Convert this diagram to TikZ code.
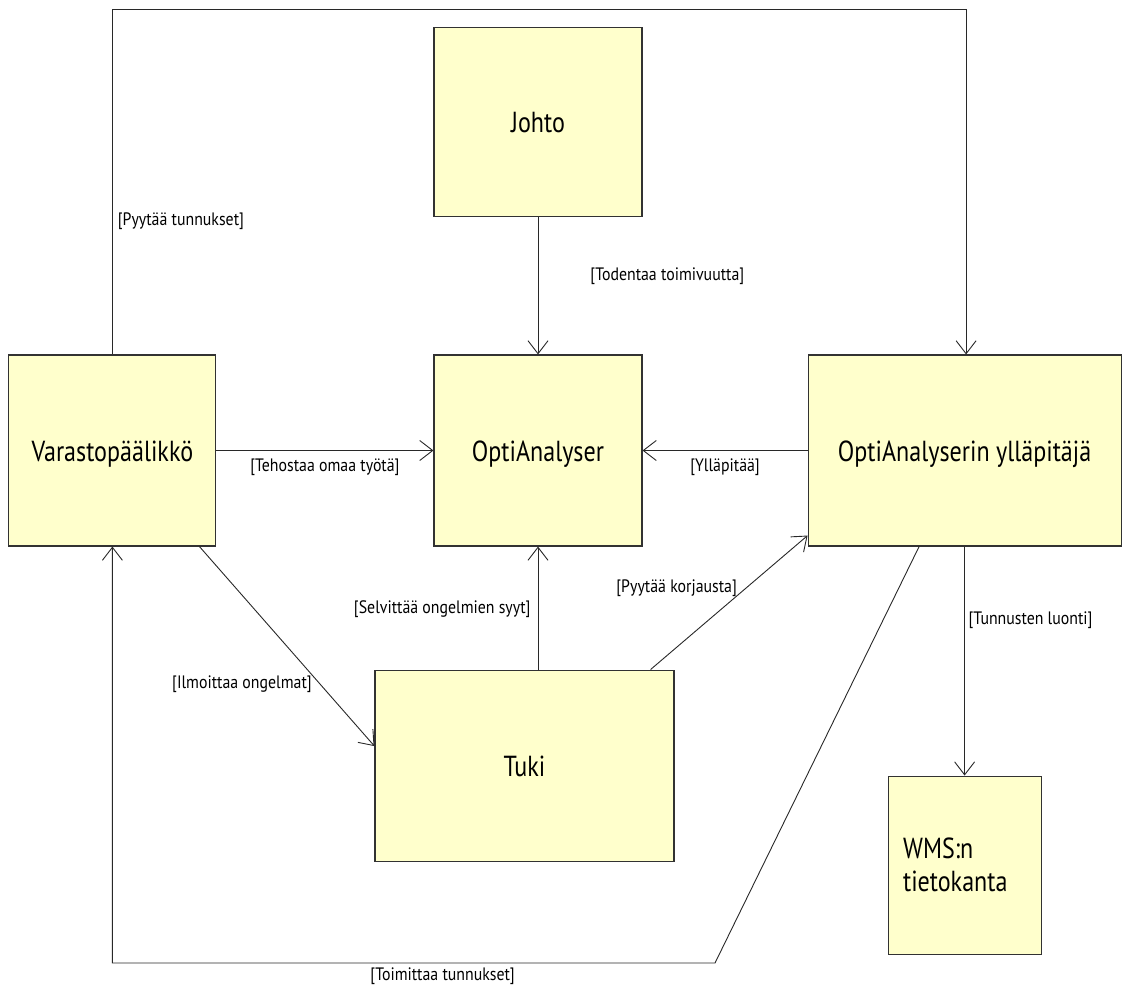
\documentclass[tikz,border=0pt]{standalone}
\usepackage{fontspec}
\usetikzlibrary{positioning,arrows.meta}
\newfontfamily\boxfont[FakeStretch=0.83]{PT Sans}
\newfontfamily\lblfont[FakeStretch=0.88]{PT Sans}
\definecolor{boxfill}{RGB}{255,255,204}
\definecolor{boxline}{RGB}{50,50,50}
\definecolor{linecol}{RGB}{40,40,40}
\tikzset{
    box/.style={draw=boxline, fill=boxfill, line width=1.1pt, inner sep=0pt,
        minimum width=208pt, minimum height=191pt,
        font=\boxfont\fontsize{29}{33}\selectfont},
    onerow/.style={text height=21pt, text depth=0pt},
    lbl/.style={inner sep=0pt, font=\lblfont\fontsize{18}{20}\selectfont},
    arr/.style={draw=linecol, line width=0.9pt,
        -{Straight Barb[length=13pt,width=20pt]}}
}
\begin{document}
\begin{tikzpicture}[x=1pt,y=-1pt,node distance=137pt]
\useasboundingbox (0,0) rectangle (1122,988);
\node(opti) [box,onerow] at (538,450.5) {OptiAnalyser};
\node(johto) [box,onerow, minimum height=189pt, above=of opti] {Johto};
\node(var)  [box,onerow, minimum width=207pt, left=217pt of opti] {Varastopäälikkö};
\node(yll)  [box,onerow, minimum width=313pt, right=165pt of opti] {OptiAnalyserin ylläpitäjä};
\node(tuki) [box,onerow, minimum width=299pt, below=123pt of opti, xshift=-13.5pt] {Tuki};
\node(wms)  [box, minimum width=153pt, minimum height=178pt, below=229pt of yll,
    text width=123pt, align=left] {WMS:n\\tietokanta};
\coordinate(kulma) at (715,963);
% yhteydet
\draw[arr] (johto) -- node(l1)[lbl, pos=0.43, right=52pt] {[Todentaa toimivuutta]} (opti);
\draw[arr] (var) -- node(l2)[lbl, below=8pt] {[Tehostaa omaa työtä]} (opti);
\draw[arr] (yll) -- node(l3)[lbl, below=8pt] {[Ylläpitää]} (opti);
\draw[arr] ([xshift=-17pt]var.south east) -- node(l4)[lbl, pos=0.69, left=8pt] {[Ilmoittaa ongelmat]} ([yshift=19.5pt]tuki.west);
\draw[arr] (opti.south |- tuki.north) -- node(l5)[lbl, pos=0.49, left=7pt] {[Selvittää ongelmien syyt]} (opti.south);
\draw[arr] ([xshift=-24pt]tuki.north east) -- node(l6)[lbl, pos=0.61, left=9pt] {[Pyytää korjausta]} ([yshift=11pt]yll.south west);
\draw[arr] (yll.south) -- node(l7)[lbl, pos=0.32, right=3.5pt] {[Tunnusten luonti]} (yll.south |- wms.north);
\draw[arr] ([xshift=-45.5pt]yll.south) -- (kulma) -| node(l8)[lbl, pos=0.226, below=4pt] {[Toimittaa tunnukset]} (var.south);
\draw[arr] (var.north) -- node(l9)[lbl, pos=0.385, right=5pt] {[Pyytää tunnukset]} ++(0,-345) -| ([xshift=1.5pt]yll.north);
\end{tikzpicture}
\end{document}
